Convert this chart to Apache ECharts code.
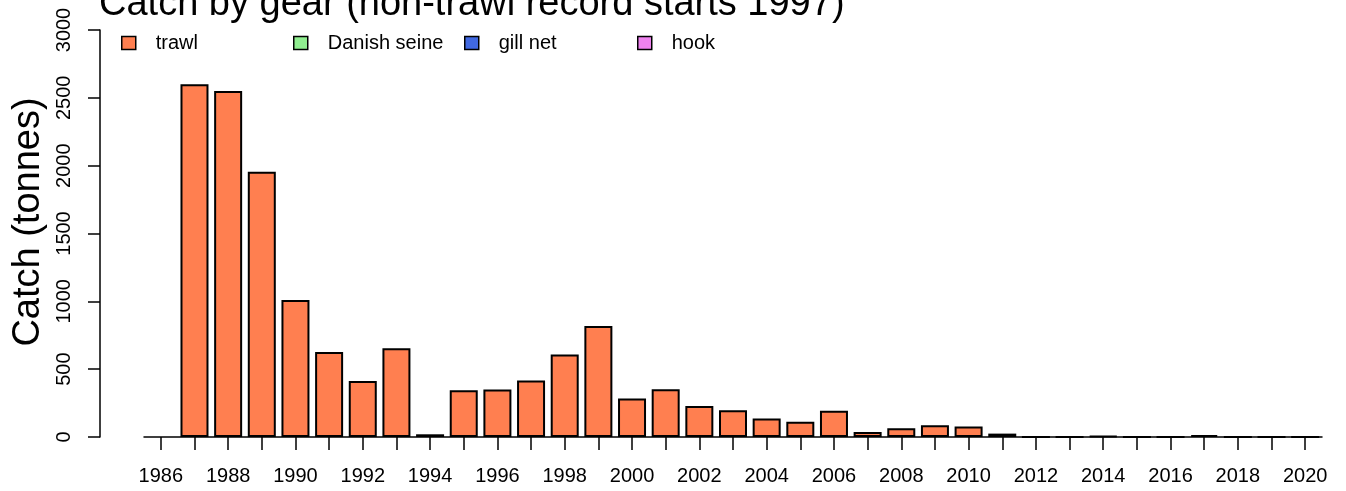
<!DOCTYPE html>
<html>
<head>
<meta charset="utf-8">
<script src="https://cdn.jsdelivr.net/npm/echarts@6/dist/echarts.min.js"></script>
<style>
html,body{margin:0;padding:0;background:#fff;}
#chart{width:1346px;height:491px;}
</style>
</head>
<body>
<div id="chart"></div>
<script>
const years = ['1986','1987','1988','1989','1990','1991','1992','1993','1994','1995','1996','1997','1998','1999','2000','2001','2002','2003','2004','2005','2006','2007','2008','2009','2010','2011','2012','2013','2014','2015','2016','2017','2018','2019','2020'];
const trawl = [null,2600,2550,1955,1010,626,413,655,20,344,351,416,608,818,284,352,229,198,137,112,193,37,64,86,78,25,0,0,6,0,0,14,0,0,0];
const danishSeine = [null,null,null,null,null,null,null,null,null,null,null,null,null,null,null,null,null,null,null,null,null,null,null,null,null,null,null,null,null,null,null,null,null,null,null];
const gillNet = [null,null,null,null,null,null,null,null,null,null,null,null,null,null,null,null,null,null,null,null,null,null,null,null,null,null,null,null,null,null,null,null,null,null,null];
const hook = [null,null,null,null,null,null,null,null,null,null,null,null,null,null,null,null,null,null,null,null,null,null,null,null,null,null,null,null,null,null,null,null,null,null,null];
const yTicks = [0,500,1000,1500,2000,2500,3000];
const seriesNames = ['trawl','Danish seine','gill net','hook'];
const seriesColors = ['#FF7F50','#90EE90','#4169E1','#EE82EE'];
const titleText = 'Catch by gear (non-trawl record starts 1997)';
const yTitle = 'Catch (tonnes)';

const FONT = 'Liberation Sans, Arial, sans-serif';
const chart = echarts.init(document.getElementById('chart'), null, {renderer:'canvas'});
const dataSets = [trawl, danishSeine, gillNet, hook];
const legendLefts = [121, 293, 464, 637];

const option = {
  backgroundColor: '#ffffff',
  animation: false,
  textStyle: {fontFamily: FONT, color: '#000'},
  grid: {left: 144, right: 24, top: 30, bottom: 54, containLabel: false},
  legend: seriesNames.map((n, i) => ({
    data: [n],
    left: legendLefts[i],
    top: 33,
    padding: 0,
    icon: 'rect',
    itemWidth: 14,
    itemHeight: 13,
    itemStyle: {borderColor: '#000', borderWidth: 1.5},
    textStyle: {fontFamily: FONT, fontSize: 20, color: '#000', padding: [0,0,0,15]},
    selectedMode: false
  })),
  xAxis: {
    type: 'category',
    data: years,
    boundaryGap: true,
    axisLine: {show: true, lineStyle: {color: '#000', width: 1.5}},
    axisTick: {show: true, alignWithLabel: true, interval: 0, length: 13, lineStyle: {color: '#000', width: 1.5}},
    axisLabel: {interval: 1, margin: 29, fontSize: 20, color: '#000', fontFamily: FONT},
    splitLine: {show: false}
  },
  yAxis: {
    type: 'value',
    min: yTicks[0],
    max: yTicks[yTicks.length - 1],
    interval: yTicks[1] - yTicks[0],
    offset: 44,
    axisLine: {show: true, lineStyle: {color: '#000', width: 1.5}},
    axisTick: {show: true, length: 12, lineStyle: {color: '#000', width: 1.5}},
    axisLabel: {rotate: 90, margin: 26, fontSize: 20, color: '#000', fontFamily: FONT, formatter: v => String(v)},
    splitLine: {show: false}
  },
  graphic: [
    {type: 'text', x: 99, y: 5, style: {text: titleText, font: '38px ' + FONT, fill: '#000', verticalAlign: 'middle', align: 'left'}},
    {type: 'text', x: 29, y: 222, rotation: Math.PI / 2, style: {text: yTitle, font: '38px ' + FONT, fill: '#000', verticalAlign: 'middle', align: 'center'}}
  ],
  series: seriesNames.map((n, i) => ({
    name: n,
    type: 'bar',
    stack: 'catch',
    data: dataSets[i],
    barWidth: 28,
    itemStyle: {color: seriesColors[i], borderColor: '#000', borderWidth: 2},
    emphasis: {disabled: true}
  }))
};
chart.setOption(option);
</script>
</body>
</html>
